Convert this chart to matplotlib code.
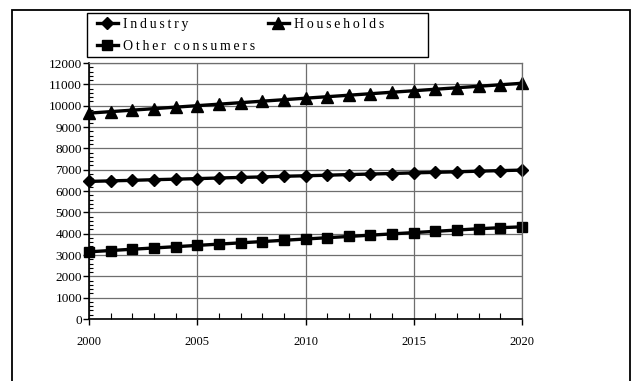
import matplotlib

matplotlib.use("Agg")

import matplotlib.pyplot as plt
from matplotlib.patches import Rectangle
from matplotlib.ticker import MultipleLocator

years = list(range(2000, 2021))
industry = [6450, 6475, 6500, 6530, 6555, 6580, 6610, 6635, 6660, 6690, 6715,
            6740, 6770, 6795, 6820, 6850, 6875, 6900, 6930, 6955, 6980]
households = [9650, 9720, 9790, 9860, 9930, 10000, 10070, 10140, 10210, 10280, 10350,
              10420, 10490, 10560, 10630, 10700, 10770, 10840, 10910, 10980, 11050]
other = [3150, 3210, 3270, 3330, 3390, 3450, 3510, 3570, 3630, 3690, 3750,
         3810, 3870, 3930, 3990, 4050, 4110, 4170, 4230, 4280, 4320]

series_names = ["Industry", "Households", "Other consumers"]


def spaced(text):
    # the legend text is letter-spaced, fake it with thin spaces
    return "\u2009".join(text.replace(" ", "\u2009"))


plt.rcParams["font.family"] = ["Liberation Serif", "DejaVu Serif"]

W, H = 632, 381
fig = plt.figure(figsize=(W / 100, H / 100), dpi=100)
ax = fig.add_axes([89 / W, 1 - 319 / H, (522 - 89) / W, (319 - 63) / H])

# outer frame, bottom edge runs off the picture
fig.patches.append(Rectangle((12 / W, -0.05), (630 - 12) / W, 1.05 - 10 / H,
                             transform=fig.transFigure, fill=False, edgecolor="black",
                             linewidth=1.3, zorder=0))

lw = 2.4
l1, = ax.plot(years, industry, color="black", lw=lw, marker="D", markersize=6.5, label=spaced(series_names[0]))
l2, = ax.plot(years, households, color="black", lw=lw, marker="^", markersize=8, label=spaced(series_names[1]))
l3, = ax.plot(years, other, color="black", lw=lw, marker="s", markersize=7.5, label=spaced(series_names[2]))
for ln in (l1, l2, l3):
    ln.set_clip_on(False)

ax.set_xlim(2000, 2020)
ax.set_ylim(0, 12000)
ax.xaxis.set_major_locator(MultipleLocator(5))
ax.xaxis.set_minor_locator(MultipleLocator(1))
ax.yaxis.set_major_locator(MultipleLocator(1000))
ax.yaxis.set_minor_locator(MultipleLocator(200))

ax.grid(True, which="major", color="#6e6e6e", linewidth=0.9)
ax.set_axisbelow(True)
for side in ("top", "right"):
    ax.spines[side].set_color("#6e6e6e")
    ax.spines[side].set_linewidth(0.9)
for side in ("left", "bottom"):
    ax.spines[side].set_color("black")
    ax.spines[side].set_linewidth(1.2)

ax.tick_params(axis="both", which="major", direction="out", length=4, width=1, labelsize=9.5)
ax.tick_params(axis="y", which="minor", direction="in", length=3, width=0.8)
ax.tick_params(axis="x", which="minor", direction="in", length=4, width=0.8)
ax.tick_params(axis="x", which="major", pad=8, labelsize=9)
ax.tick_params(axis="y", which="major", pad=1)

# legend frame drawn by hand, entries placed in two legends without frames
fig.patches.append(Rectangle((87 / W, 1 - 57 / H), (428 - 87) / W, 44 / H,
                             transform=fig.transFigure, fill=False, edgecolor="black",
                             linewidth=1.0, zorder=3))
leg_kw = dict(loc="upper left", bbox_transform=fig.transFigure, fontsize=10, frameon=False,
              handlelength=1.5, handletextpad=0.35, borderaxespad=0, borderpad=0,
              labelspacing=0.65)
leg1 = ax.legend(handles=[l1, l3], bbox_to_anchor=(97 / W, 1 - 18 / H), **leg_kw)
ax.add_artist(leg1)
ax.legend(handles=[l2], bbox_to_anchor=(268 / W, 1 - 18 / H), **leg_kw)

fig.savefig("out.png", dpi=100)
